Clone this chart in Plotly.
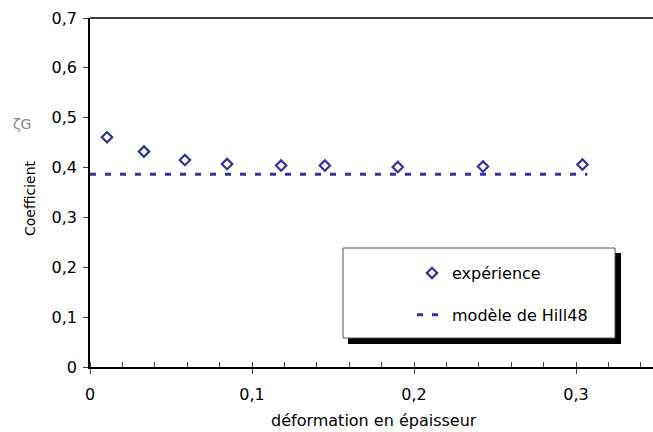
import plotly.graph_objects as go

# data
strain = [0.0105, 0.0333, 0.0586, 0.0846, 0.118, 0.145, 0.190, 0.2426, 0.3040]
coef_exp = [0.461, 0.432, 0.415, 0.407, 0.404, 0.404, 0.401, 0.402, 0.406]
hill_x = [0.0, 0.307]
hill_y = [0.3866, 0.3866]

x_tickvals = [0, 0.1, 0.2, 0.3]
x_ticktext = ["0", "0,1", "0,2", "0,3"]
y_tickvals = [0, 0.1, 0.2, 0.3, 0.4, 0.5, 0.6, 0.7]
y_ticktext = ["0", "0,1", "0,2", "0,3", "0,4", "0,5", "0,6", "0,7"]

navy = "#333399"
font_family = "DejaVu Sans, Arial, sans-serif"

fig = go.Figure()
fig.add_trace(go.Scatter(
    x=strain, y=coef_exp, mode="markers", name="expérience",
    legendgroup="a",
    marker=dict(symbol="diamond-open", size=8, color=navy, line=dict(width=2.2, color=navy)),
))
fig.add_trace(go.Scatter(
    x=hill_x, y=hill_y, mode="lines", name="modèle de Hill48",
    legendgroup="b",
    line=dict(color=navy, width=3, dash="6px,9px"),
))

L, R, T, B = 90, 0, 18, 65
W, H = 653, 432
pw, ph = W - L - R, H - T - B

def px(xp):
    return (xp - L) / pw

def py(yp):
    return (H - B - yp) / ph

shapes = [
    # legend shadow
    dict(type="rect", xref="paper", yref="paper", x0=px(348), x1=px(621), y0=py(344), y1=py(253),
         fillcolor="black", line=dict(width=0), layer="above"),
    # legend box
    dict(type="rect", xref="paper", yref="paper", x0=px(343), x1=px(615), y0=py(338), y1=py(248),
         fillcolor="white", line=dict(width=1, color="#555555"), layer="above"),
    # top border
    dict(type="line", xref="paper", yref="paper", x0=0, x1=1, y0=1, y1=1,
         line=dict(width=1.5, color="black")),
]

annotations = [
    dict(text="Coefficient", xref="paper", yref="paper", x=px(30), y=py(198),
         showarrow=False, textangle=-90, font=dict(size=14, color="black", family=font_family),
         xanchor="center", yanchor="middle"),
    dict(text="ζG", xref="paper", yref="paper", x=px(22), y=py(124),
         showarrow=False, font=dict(size=14, color="#888888", family=font_family),
         xanchor="center", yanchor="middle"),
    dict(text="déformation en épaisseur", xref="paper", yref="paper", x=px(374), y=py(420),
         showarrow=False, font=dict(size=16, color="black", family=font_family),
         xanchor="center", yanchor="middle"),
]

fig.update_layout(
    width=W, height=H,
    margin=dict(l=L, r=R, t=T, b=B),
    paper_bgcolor="white", plot_bgcolor="white",
    font=dict(family=font_family, size=16, color="black"),
    showlegend=True,
    legend=dict(x=px(412), y=py(256), xanchor="left", yanchor="top",
                bgcolor="rgba(0,0,0,0)", borderwidth=0,
                tracegroupgap=18, traceorder="grouped",
                font=dict(size=16, family=font_family, color="black")),
    shapes=shapes,
    annotations=annotations,
)

fig.update_xaxes(
    range=[0, pw / 1620.0], showgrid=False, zeroline=False,
    showline=True, linecolor="black", linewidth=1.5,
    tickmode="array", tickvals=x_tickvals, ticktext=x_ticktext,
    ticks="outside", ticklen=5, tickcolor="#444444", tickwidth=1,
    minor=dict(ticks="inside", dtick=0.02, ticklen=5, tickcolor="#444444", tickwidth=1, showgrid=False),
    ticklabelstandoff=7,
    tickfont=dict(size=16),
)
fig.update_yaxes(
    range=[0, 0.7], showgrid=False, zeroline=False,
    showline=True, linecolor="black", linewidth=1.5,
    tickmode="array", tickvals=y_tickvals, ticktext=y_ticktext,
    ticks="outside", ticklen=5, tickcolor="#444444", tickwidth=1,
    ticklabelstandoff=3,
    tickfont=dict(size=16),
)

fig.write_html(
    "out.html",
    config={"displayModeBar": False},
    post_script="document.body.style.margin='0';document.body.style.padding='0';"
                "document.documentElement.style.overflow='hidden';",
)
